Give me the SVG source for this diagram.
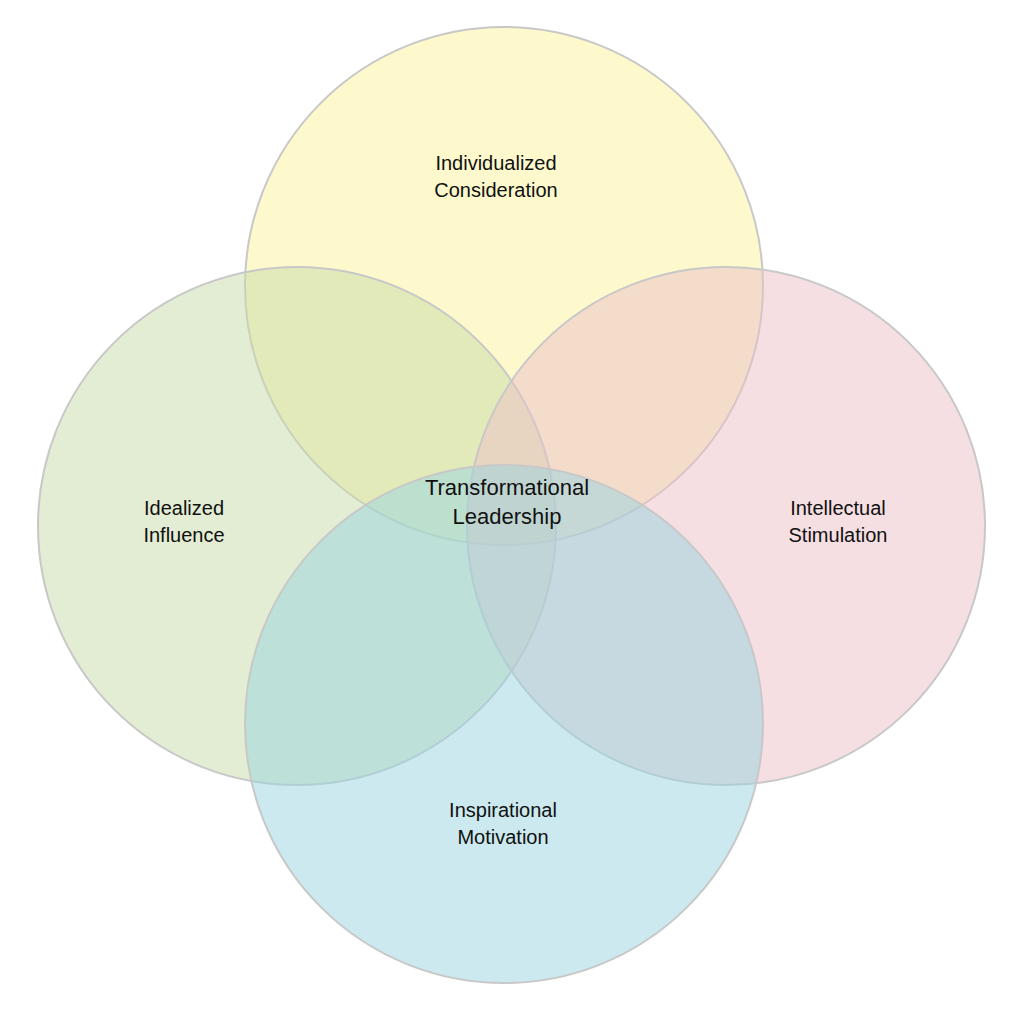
<svg xmlns="http://www.w3.org/2000/svg" width="1024" height="1013" viewBox="0 0 1024 1013">
<style>
.c{stroke:#c8c8c8;stroke-width:2;fill-opacity:0.5}
text{font-family:"Liberation Sans",Arial,sans-serif;font-size:20px;fill:#111;text-anchor:middle}
.big{font-size:22px}
</style>
<rect width="1024" height="1013" fill="#fff"/>
<g id="top"><circle class="c" cx="504" cy="286" r="259" fill="#fbf39a"/><text x="496" y="170">Individualized</text><text x="496" y="197">Consideration</text></g>
<g id="left"><circle class="c" cx="297" cy="526" r="259" fill="#c8dca8"/><text x="184" y="515">Idealized</text><text x="184" y="542">Influence</text></g>
<g id="right"><circle class="c" cx="726" cy="526" r="259" fill="#ecbfc8"/><text x="838" y="515">Intellectual</text><text x="838" y="542">Stimulation</text></g>
<g id="bottom"><circle class="c" cx="504" cy="724" r="259" fill="#98d4df"/><text x="503" y="817">Inspirational</text><text x="503" y="844">Motivation</text></g>
<g id="center"><text class="big" x="507" y="495">Transformational</text><text class="big" x="507" y="524">Leadership</text></g>
<g id="connectors"/>
</svg>
